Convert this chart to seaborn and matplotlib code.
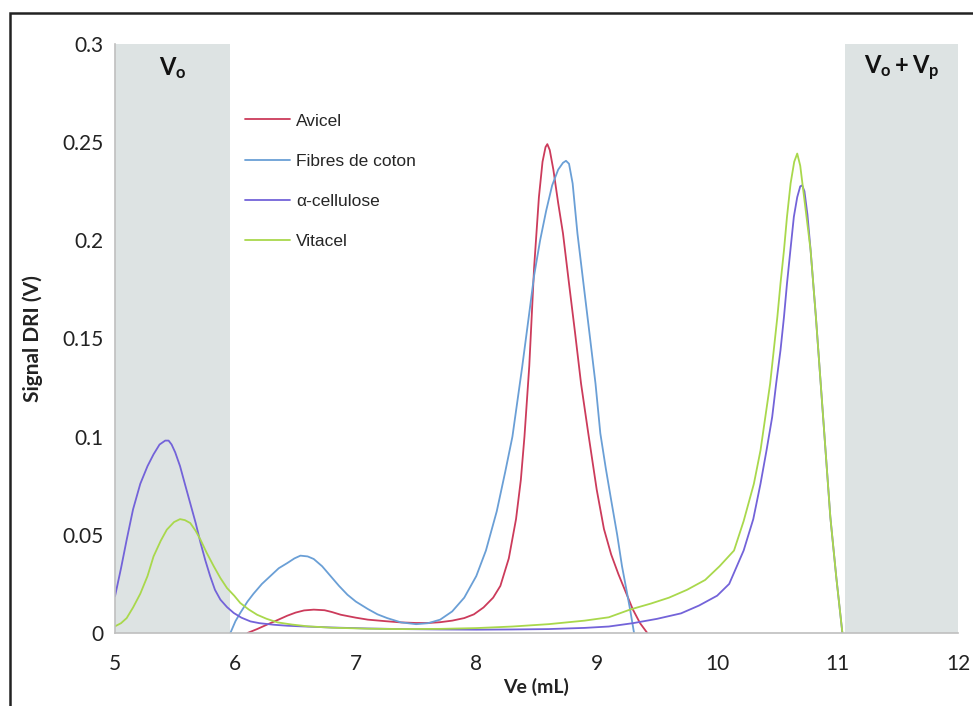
import matplotlib
matplotlib.use("Agg")
import matplotlib.pyplot as plt
from matplotlib.patches import Rectangle
import seaborn as sns
import pandas as pd

# Elution volumes (mL) and refractive-index detector signal (V) per sample
avicel_ve = [6.10, 6.18, 6.26, 6.35, 6.43, 6.50, 6.57, 6.65, 6.74, 6.80, 6.875, 7.0, 7.10, 7.25,
             7.375, 7.5, 7.6, 7.7, 7.8, 7.9, 7.98, 8.06, 8.14, 8.20, 8.27, 8.33, 8.37, 8.40,
             8.44, 8.48, 8.52, 8.55, 8.575, 8.59, 8.61, 8.64, 8.68, 8.72, 8.77, 8.82, 8.87,
             8.93, 9.0, 9.06, 9.12, 9.18, 9.24, 9.30, 9.36, 9.42]
avicel_dri = [0.0, 0.002, 0.0042, 0.0066, 0.0088, 0.0104, 0.0115, 0.0119, 0.0116, 0.0107, 0.0093,
              0.0078, 0.0068, 0.0060, 0.0054, 0.0051, 0.0051, 0.0055, 0.0063, 0.0076, 0.0095,
              0.013, 0.018, 0.024, 0.038, 0.058, 0.078, 0.100, 0.136, 0.186, 0.222, 0.240,
              0.2475, 0.249, 0.246, 0.236, 0.219, 0.2035, 0.178, 0.153, 0.127, 0.1017, 0.073,
              0.053, 0.040, 0.030, 0.021, 0.012, 0.005, 0.0]

coton_ve = [5.958, 6.0, 6.04, 6.10, 6.15, 6.22, 6.29, 6.36, 6.43, 6.49, 6.54, 6.60, 6.65, 6.72,
            6.79, 6.86, 6.93, 7.0, 7.10, 7.18, 7.26, 7.375, 7.5, 7.6, 7.7, 7.8, 7.9, 8.0, 8.08,
            8.17, 8.24, 8.30, 8.38, 8.44, 8.48, 8.53, 8.58, 8.63, 8.68, 8.72, 8.745, 8.77, 8.80,
            8.84, 8.89, 8.94, 8.99, 9.03, 9.075, 9.12, 9.17, 9.21, 9.25, 9.28, 9.31]
coton_dri = [0.0, 0.006, 0.0102, 0.016, 0.020, 0.025, 0.029, 0.033, 0.0356, 0.038, 0.0394, 0.039,
             0.0377, 0.034, 0.029, 0.024, 0.0195, 0.016, 0.0122, 0.0095, 0.0076, 0.0054, 0.0045,
             0.0050, 0.0068, 0.011, 0.018, 0.029, 0.042, 0.062, 0.082, 0.100, 0.135, 0.163,
             0.182, 0.200, 0.215, 0.228, 0.236, 0.2395, 0.2405, 0.239, 0.229, 0.2035, 0.178,
             0.1526, 0.127, 0.1017, 0.084, 0.0677, 0.050, 0.034, 0.021, 0.011, 0.0]

alpha_ve = [5.0, 5.05, 5.097, 5.15, 5.21, 5.27, 5.32, 5.37, 5.417, 5.445, 5.47, 5.50, 5.54, 5.58,
            5.625, 5.67, 5.71, 5.75, 5.79, 5.83, 5.875, 5.93, 5.986, 6.05, 6.125, 6.2, 6.32,
            6.43, 6.54, 6.8, 7.1, 7.375, 7.7, 8.0, 8.3, 8.6, 8.9, 9.1, 9.3, 9.5, 9.7, 9.85,
            10.0, 10.1, 10.22, 10.30, 10.36, 10.41, 10.457, 10.49, 10.526, 10.555, 10.58,
            10.61, 10.637, 10.665, 10.69, 10.706, 10.725, 10.75, 10.776, 10.82, 10.86, 10.90,
            10.94, 10.99, 11.04]
alpha_dri = [0.0187, 0.033, 0.0475, 0.063, 0.076, 0.085, 0.091, 0.096, 0.098, 0.098, 0.096, 0.092,
             0.085, 0.076, 0.066, 0.056, 0.046, 0.037, 0.029, 0.022, 0.017, 0.0132, 0.0102,
             0.0078, 0.0059, 0.0050, 0.0042, 0.0037, 0.0034, 0.0028, 0.0023, 0.0020, 0.0018,
             0.0017, 0.0018, 0.0020, 0.0026, 0.0033, 0.0050, 0.0072, 0.010, 0.014, 0.019,
             0.025, 0.042, 0.058, 0.076, 0.093, 0.110, 0.127, 0.144, 0.161, 0.178, 0.196,
             0.212, 0.222, 0.2275, 0.228, 0.225, 0.213, 0.195, 0.161, 0.127, 0.093, 0.059,
             0.028, 0.0]

vitacel_ve = [5.0, 5.05, 5.097, 5.15, 5.21, 5.27, 5.32, 5.38, 5.43, 5.49, 5.54, 5.58, 5.625, 5.67,
              5.71, 5.76, 5.82, 5.875, 5.93, 5.99, 6.04, 6.11, 6.18, 6.26, 6.35, 6.47, 6.6, 6.8,
              7.1, 7.375, 7.7, 8.0, 8.3, 8.6, 8.9, 9.1, 9.28, 9.45, 9.6, 9.75, 9.9, 10.02,
              10.14, 10.22, 10.305, 10.36, 10.40, 10.44, 10.47, 10.50, 10.526, 10.555, 10.58,
              10.61, 10.64, 10.665, 10.69, 10.73, 10.776, 10.82, 10.86, 10.90, 10.94, 10.99,
              11.04]
vitacel_dri = [0.0034, 0.005, 0.0076, 0.013, 0.020, 0.029, 0.039, 0.047, 0.0526, 0.0565, 0.058,
               0.0575, 0.056, 0.052, 0.0475, 0.041, 0.034, 0.028, 0.0229, 0.019, 0.0153, 0.012,
               0.0093, 0.0072, 0.0054, 0.0043, 0.0034, 0.0027, 0.0022, 0.0020, 0.0021, 0.0025,
               0.0033, 0.0045, 0.0063, 0.008, 0.012, 0.015, 0.018, 0.022, 0.027, 0.034, 0.042,
               0.057, 0.076, 0.093, 0.110, 0.127, 0.144, 0.161, 0.178, 0.195, 0.212, 0.229,
               0.240, 0.2442, 0.238, 0.218, 0.195, 0.161, 0.127, 0.093, 0.059, 0.028, 0.0]

samples = ["Avicel", "Fibres de coton", "α-cellulose", "Vitacel"]
series = [(avicel_ve, avicel_dri), (coton_ve, coton_dri), (alpha_ve, alpha_dri),
          (vitacel_ve, vitacel_dri)]
colors = ["#cc3b5b", "#6a9fd6", "#7363d9", "#a9d84c"]

# Volume ranges: total exclusion (V0) and total permeation (V0 + Vp)
v0_range = (5.0, 5.955)
vt_range = (11.06, 12.0)

rows = []
for name, (ve, dri) in zip(samples, series):
    for i, (x, y) in enumerate(zip(ve, dri)):
        rows.append({"Ve": x, "DRI": y, "sample": name, "order": i})
df = pd.DataFrame(rows)

sns.set_style("white")
plt.rcParams["font.family"] = ["Lato", "DejaVu Sans"]
plt.rcParams["mathtext.fontset"] = "custom"
plt.rcParams["mathtext.rm"] = "Lato"
plt.rcParams["mathtext.bf"] = "Lato:bold"
plt.rcParams["mathtext.it"] = "Lato:italic"

fig = plt.figure(figsize=(9.73, 7.06), dpi=100)
ax = fig.add_axes([115 / 973, 73 / 706, 843 / 973, 589 / 706])

ax.axvspan(*v0_range, color="#dde3e3", zorder=0, lw=0)
ax.axvspan(*vt_range, color="#dde3e3", zorder=0, lw=0)

sns.lineplot(data=df, x="Ve", y="DRI", hue="sample", hue_order=samples,
             palette=dict(zip(samples, colors)), sort=False, estimator=None,
             units="sample", linewidth=1.3, ax=ax)

ax.set_xlim(5, 12)
ax.set_ylim(0, 0.3)
ax.set_xticks(range(5, 13))
ax.set_yticks([0, 0.05, 0.1, 0.15, 0.2, 0.25, 0.3])
ax.set_yticklabels(["0", "0.05", "0.1", "0.15", "0.2", "0.25", "0.3"])
ax.tick_params(axis="both", labelsize=15, colors="#bfbfbf", labelcolor="#222222",
               length=4, width=1, direction="out")
ax.tick_params(axis="x", pad=11)
ax.tick_params(axis="y", pad=4)
for side in ("top", "right"):
    ax.spines[side].set_visible(False)
for side in ("left", "bottom"):
    ax.spines[side].set_color("#bfbfbf")
    ax.spines[side].set_linewidth(1.2)

ax.set_xlabel("Ve (mL)", fontsize=14, fontweight="bold", color="#222222", labelpad=3)
ax.set_ylabel("Signal DRI (V)", fontsize=15, fontweight="bold", color="#222222", labelpad=14)

ax.text(5.48, 0.2875, r"$\mathbf{V_o}$", ha="center", va="center", fontsize=17, color="#111111")
ax.text(11.53, 0.2875, r"$\mathbf{V_o + V_p}$", ha="center", va="center", fontsize=17,
        color="#111111")

leg = ax.legend(loc="upper left", bbox_to_anchor=(0.1437, 0.897), frameon=False,
                prop={"family": "Liberation Sans", "size": 12.5}, handlelength=2.6,
                handletextpad=0.35, labelspacing=1.45, borderpad=0)
for line in leg.get_lines():
    line.set_linewidth(1.3)

# Outer frame of the figure
fig.patches.append(Rectangle((10 / 973, -0.05), 1.2, (706 - 13) / 706 + 0.05,
                             transform=fig.transFigure, fill=False, edgecolor="#222222",
                             linewidth=1.8, zorder=10))

fig.savefig("out.png", dpi=100)
